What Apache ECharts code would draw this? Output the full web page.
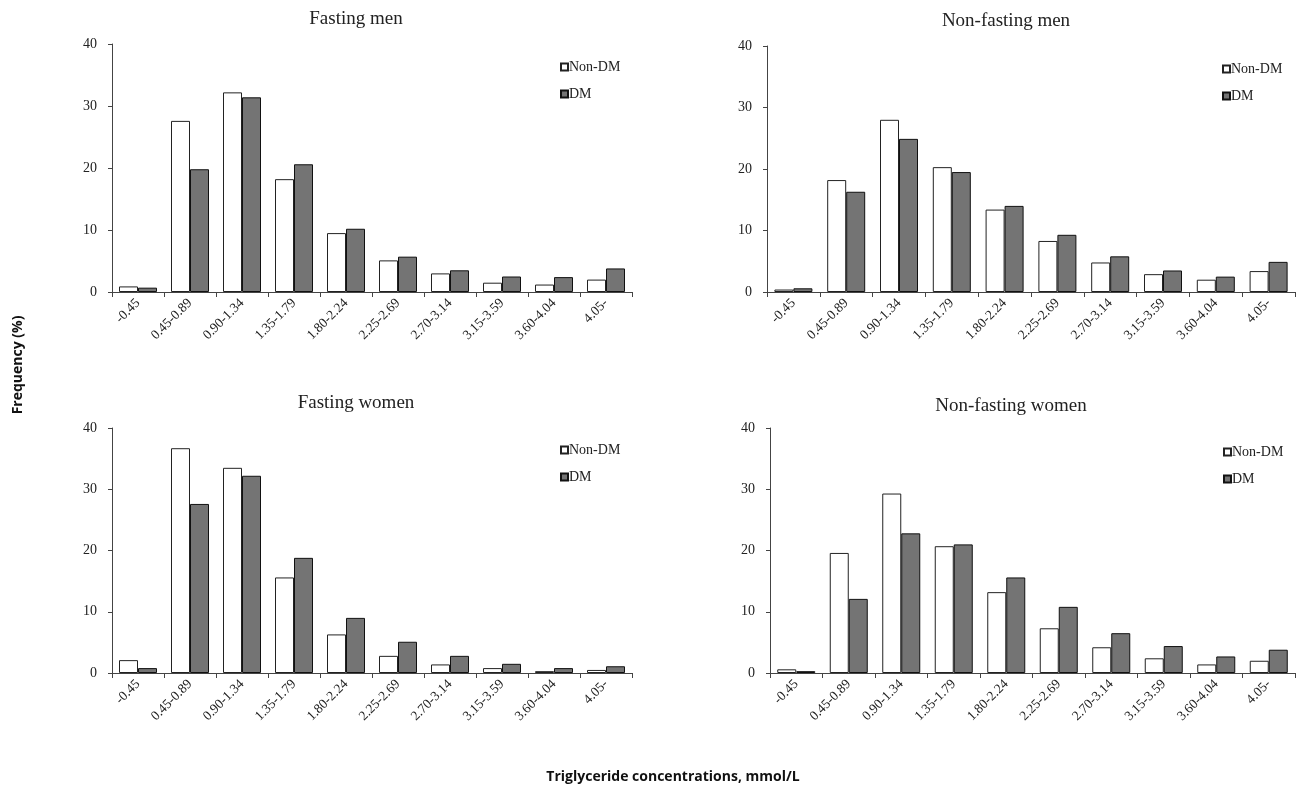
<!DOCTYPE html>
<html>
<head>
<meta charset="utf-8">
<script src="https://cdn.jsdelivr.net/npm/echarts@6/dist/echarts.min.js"></script>
<style>html,body{margin:0;padding:0;background:#fff}#c{width:1307px;height:792px}</style>
</head>
<body>
<div id="c"></div>
<script>
const categories = ['-0.45','0.45-0.89','0.90-1.34','1.35-1.79','1.80-2.24','2.25-2.69','2.70-3.14','3.15-3.59','3.60-4.04','4.05-'];
const yTicks = [0, 10, 20, 30, 40];
const panelTitles = ['Fasting men', 'Non-fasting men', 'Fasting women', 'Non-fasting women'];
const seriesNames = ['Non-DM', 'DM'];

const fastingMenNonDM = [0.9, 27.6, 32.2, 18.2, 9.5, 5.1, 3.0, 1.5, 1.2, 2.0];
const fastingMenDM = [0.7, 19.8, 31.4, 20.6, 10.2, 5.7, 3.5, 2.5, 2.4, 3.8];
const nonFastingMenNonDM = [0.4, 18.2, 28.0, 20.3, 13.4, 8.3, 4.8, 2.9, 2.0, 3.4];
const nonFastingMenDM = [0.6, 16.3, 24.9, 19.5, 14.0, 9.3, 5.8, 3.5, 2.5, 4.9];
const fastingWomenNonDM = [2.1, 36.7, 33.5, 15.6, 6.3, 2.8, 1.4, 0.8, 0.3, 0.5];
const fastingWomenDM = [0.8, 27.6, 32.2, 18.8, 9.0, 5.1, 2.8, 1.5, 0.8, 1.1];
const nonFastingWomenNonDM = [0.6, 19.6, 29.3, 20.7, 13.2, 7.3, 4.2, 2.4, 1.4, 2.0];
const nonFastingWomenDM = [0.3, 12.1, 22.8, 21.0, 15.6, 10.8, 6.5, 4.4, 2.7, 3.8];

const panelData = [
  [fastingMenNonDM, fastingMenDM],
  [nonFastingMenNonDM, nonFastingMenDM],
  [fastingWomenNonDM, fastingWomenDM],
  [nonFastingWomenNonDM, nonFastingWomenDM]
];

const grids = [
  {left: 112, top: 44, width: 520, height: 248},
  {left: 767, top: 46, width: 528, height: 246},
  {left: 112, top: 428, width: 520, height: 245},
  {left: 770, top: 428, width: 525, height: 245}
];
const titlePos = [[351, 5], [1001, 7], [351, 389], [1006, 392]];
const legendPos = [[555, 55], [1217, 57], [555, 438], [1218, 440]];

const serif = '"Liberation Serif", "Times New Roman", serif';
const sans = '"Open Sans", "Noto Sans", sans-serif';
const chart = echarts.init(document.getElementById('c'));

const option = {
  animation: false,
  backgroundColor: '#fff',
  title: panelTitles.map((t, i) => ({
    text: t, left: titlePos[i][0], top: titlePos[i][1], textAlign: 'center',
    textStyle: {fontFamily: serif, fontSize: 19, fontWeight: 'normal', color: '#222'}
  })).concat([
    {text: 'Triglyceride concentrations, mmol/L', left: 668, top: 765, textAlign: 'center',
     textStyle: {fontFamily: sans, fontSize: 14, fontWeight: 'bold', color: '#111'}}
  ]),
  graphic: [{
    type: 'text', x: 18, y: 365, rotation: Math.PI / 2, origin: [0, 0],
    style: {text: 'Frequency (%)', fill: '#111', font: 'bold 14px "Open Sans", "Noto Sans", sans-serif',
            textAlign: 'center', textVerticalAlign: 'middle'}
  }],
  legend: legendPos.map((p, i) => ({
    data: seriesNames, orient: 'vertical', left: p[0], top: p[1],
    itemWidth: 7, itemHeight: 7, itemGap: 13, icon: 'rect',
    selectedMode: false,
    textStyle: {fontFamily: serif, fontSize: 14, color: '#222', padding: [0, 0, 0, -4]}
  })),
  grid: grids,
  xAxis: grids.map((g, i) => ({
    type: 'category', gridIndex: i, data: categories,
    axisLine: {lineStyle: {color: '#444', width: 1}},
    axisTick: {show: true, alignWithLabel: false, length: 5, lineStyle: {color: '#444'}},
    axisLabel: {interval: 0, rotate: 45, fontFamily: serif, fontSize: 13.5, color: '#222', margin: 9}
  })),
  yAxis: grids.map((g, i) => ({
    type: 'value', gridIndex: i, min: yTicks[0], max: yTicks[yTicks.length - 1], interval: 10,
    splitLine: {show: false},
    axisLine: {show: true, lineStyle: {color: '#444', width: 1}},
    axisTick: {show: true, length: 4, lineStyle: {color: '#444'}},
    axisLabel: {fontFamily: serif, fontSize: 14, color: '#222', margin: 15}
  })),
  series: []
};

panelData.forEach((pair, i) => {
  option.series.push({
    name: seriesNames[0], type: 'bar', xAxisIndex: i, yAxisIndex: i, data: pair[0],
    barWidth: 19, barGap: '0%',
    itemStyle: {color: '#ffffff', borderColor: '#222', borderWidth: 1}
  });
  option.series.push({
    name: seriesNames[1], type: 'bar', xAxisIndex: i, yAxisIndex: i, data: pair[1],
    barWidth: 19, barGap: '0%',
    itemStyle: {color: '#747474', borderColor: '#111', borderWidth: 1}
  });
});

chart.setOption(option);
</script>
</body>
</html>
